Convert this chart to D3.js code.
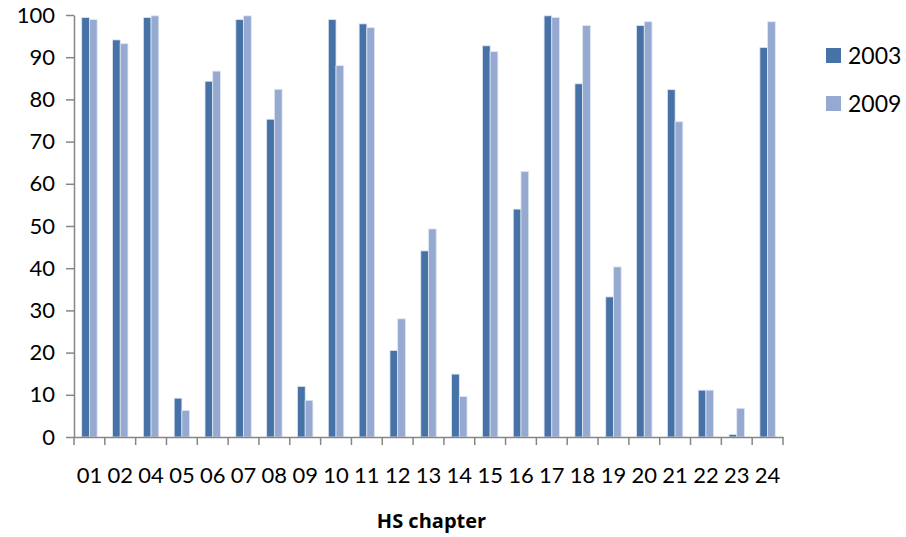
<!DOCTYPE html>
<html>
<head>
<meta charset="utf-8">
<script src="https://cdn.jsdelivr.net/npm/d3@7"></script>
<style>
  body { margin: 0; background: #fff; }
  text { font-family: Lato, "Open Sans", sans-serif; fill: #000; }
</style>
</head>
<body>
<svg width="906" height="537"></svg>
<script>
// chart data
var chapters = ["01","02","04","05","06","07","08","09","10","11","12","13","14","15","16","17","18","19","20","21","22","23","24"];
var values2003 = [99.4,94.1,99.4,9.2,84.3,98.9,75.3,12.0,98.9,97.9,20.5,44.1,14.9,92.7,54.0,99.8,83.7,33.2,97.5,82.3,11.1,0.6,92.3];
var values2009 = [98.9,93.2,99.8,6.3,86.7,99.8,82.4,8.7,88.0,97.0,28.0,49.3,9.6,91.3,62.9,99.4,97.5,40.3,98.4,74.7,11.1,6.8,98.4];
var seriesNames = ["2003", "2009"];
var yTicks = [0,10,20,30,40,50,60,70,80,90,100];

var colors = ["#4672A7", "#95A9D1"];
var svg = d3.select("svg");

// plot edges (not "top": that name is taken by window.top)
var plotLeft = 74, plotRight = 783, plotTop = 15, plotBottom = 437;

var x = d3.scaleBand().domain(chapters).range([plotLeft, plotRight]);
var xInner = d3.scaleBand().domain(seriesNames)
    .range([x.bandwidth() / 4, x.bandwidth() * 3 / 4]);
var y = d3.scaleLinear().domain([0, 100]).range([plotBottom, plotTop]);

var rows = chapters.map(function(c, i) {
  return { chapter: c, vals: [values2003[i], values2009[i]] };
});

// bars
var groups = svg.append("g").selectAll("g")
    .data(rows).enter().append("g")
    .attr("transform", function(d) { return "translate(" + x(d.chapter) + ",0)"; });

groups.selectAll("rect")
    .data(function(d) { return d.vals.map(function(v, j) { return { name: seriesNames[j], v: v, j: j }; }); })
    .enter().append("rect")
    .attr("x", function(d) { return xInner(d.name); })
    .attr("y", function(d) { return y(d.v); })
    .attr("width", xInner.bandwidth())
    .attr("height", function(d) { return plotBottom - y(d.v); })
    .attr("fill", function(d) { return colors[d.j]; })
    .attr("stroke", "#dfe6f1")
    .attr("stroke-width", 0.8);

// y axis
var yAxis = svg.append("g")
    .attr("transform", "translate(" + plotLeft + ",0)")
    .call(d3.axisLeft(y).tickValues(yTicks).tickSize(8).tickPadding(11).tickSizeOuter(0));
yAxis.select(".domain").attr("stroke", "#868686").attr("stroke-width", 1.5);
yAxis.selectAll(".tick line").attr("stroke", "#868686").attr("stroke-width", 1.5);
yAxis.selectAll("text").attr("font-size", "22px").attr("fill", "#000");

// x axis
var xAxis = svg.append("g")
    .attr("transform", "translate(0," + plotBottom + ")")
    .call(d3.axisBottom(x).tickSize(0).tickPadding(30));
xAxis.select(".domain").attr("stroke", "#868686").attr("stroke-width", 1.5);
xAxis.selectAll("text").attr("font-size", "22px").attr("fill", "#000");

// tick marks on band edges
var edges = chapters.map(function(c) { return x(c); }).concat([plotRight]);
svg.append("g").selectAll("line")
    .data(edges).enter().append("line")
    .attr("x1", function(d) { return d; })
    .attr("x2", function(d) { return d; })
    .attr("y1", plotBottom)
    .attr("y2", plotBottom + 8)
    .attr("stroke", "#868686")
    .attr("stroke-width", 1.5);

// axis title (style, so it wins over the css rule)
svg.append("text")
    .attr("x", (plotLeft + plotRight) / 2 + 3)
    .attr("y", 528)
    .attr("text-anchor", "middle")
    .style("font-family", "'Open Sans', Lato, sans-serif")
    .attr("font-size", "20px")
    .attr("font-weight", "bold")
    .text("HS chapter");

// legend
var legend = svg.append("g").selectAll("g")
    .data(seriesNames).enter().append("g")
    .attr("transform", function(d, i) { return "translate(826," + (48 + i * 48) + ")"; });
legend.append("rect")
    .attr("width", 15).attr("height", 15)
    .attr("fill", function(d, i) { return colors[i]; });
legend.append("text")
    .attr("x", 22).attr("y", 8)
    .attr("dy", "0.35em")
    .attr("font-size", "23px")
    .text(function(d) { return d; });
</script>
</body>
</html>
